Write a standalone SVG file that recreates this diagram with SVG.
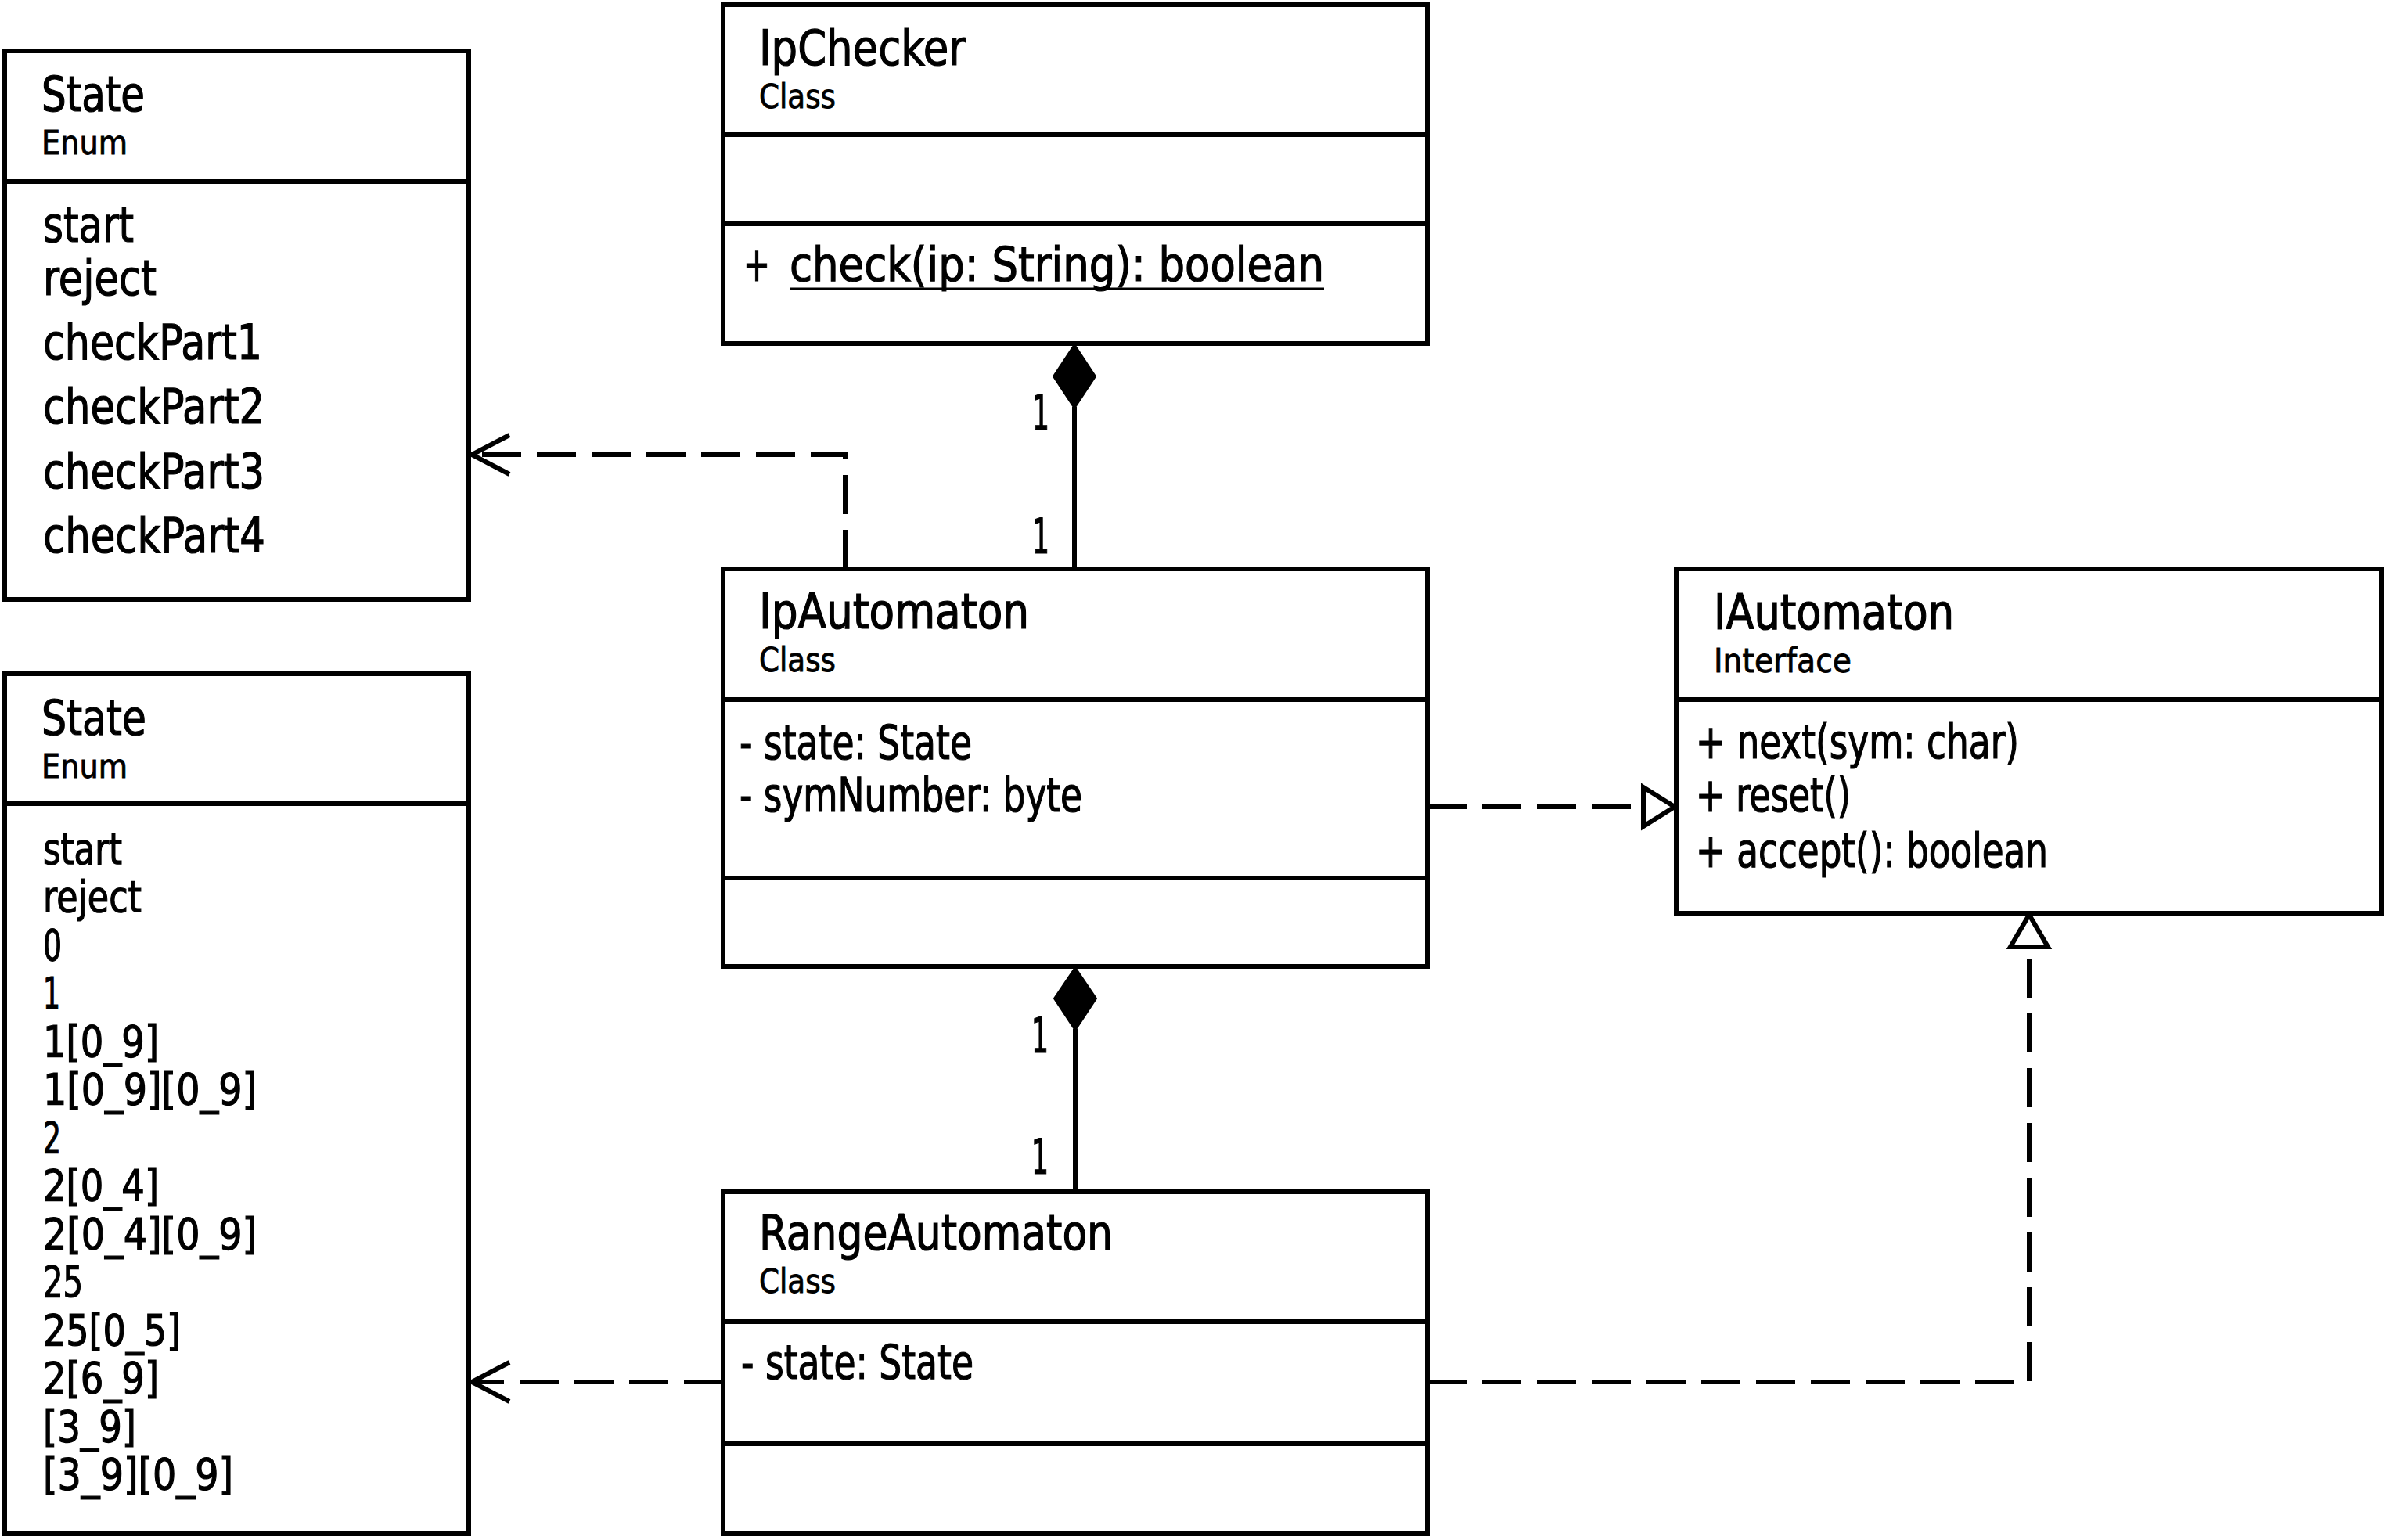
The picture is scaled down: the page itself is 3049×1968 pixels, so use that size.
<svg xmlns="http://www.w3.org/2000/svg" width="3049" height="1968" viewBox="0 0 3049 1968">
<style>
.box{fill:#fff;stroke:#000;stroke-width:6}
.div{stroke:#000;stroke-width:6}
text{font-family:'DejaVu Sans Condensed','DejaVu Sans',sans-serif;fill:#000;stroke:#000;stroke-width:1.2}
.nm{font-size:63px}
.st{font-size:42px;stroke-width:0.8}
.e1{font-size:63px}
.e2{font-size:55px}
.mb{font-size:61px}
.lb{font-size:62px}
.ln{fill:none;stroke:#000;stroke-width:6}
.dash{fill:none;stroke:#000;stroke-width:6;stroke-dasharray:50 20}
.dia{fill:#000;stroke:#000;stroke-width:2}
.tri{fill:#fff;stroke:#000;stroke-width:6;stroke-linejoin:miter}
.arr{fill:none;stroke:#000;stroke-width:6}
</style>
<rect width="3049" height="1968" fill="#fff"/>

<g id="connectors">
  <line class="ln" x1="1373" y1="520" x2="1373" y2="727"/>
  <polygon class="dia" points="1373,440 1400,481 1373,522 1346,481"/>
  <line class="ln" x1="1374" y1="1315" x2="1374" y2="1523"/>
  <polygon class="dia" points="1374,1236 1401,1276 1374,1317 1347,1276"/>
  <path class="dash" d="M1080,727 V581 H605"/>
  <polyline class="arr" points="651,556 603,581 651,606"/>
  <path class="dash" d="M924,1766 H605"/>
  <polyline class="arr" points="651,1741 603,1766 651,1791"/>
  <path class="dash" d="M1824,1031 H2100"/>
  <polygon class="tri" points="2100,1006 2140,1031 2100,1056"/>
  <path class="dash" d="M1824,1766 H2593 V1210"/>
  <polygon class="tri" points="2569,1210 2593,1169 2617,1210"/>
  <text class="lb" x="1319" y="549" textLength="22" lengthAdjust="spacingAndGlyphs">1</text>
  <text class="lb" x="1319" y="707" textLength="22" lengthAdjust="spacingAndGlyphs">1</text>
  <text class="lb" x="1318" y="1345" textLength="22" lengthAdjust="spacingAndGlyphs">1</text>
  <text class="lb" x="1318" y="1500" textLength="22" lengthAdjust="spacingAndGlyphs">1</text>
</g>

<g id="state1">
  <rect class="box" x="6" y="65" width="593" height="701"/>
  <line class="div" x1="6" y1="232" x2="599" y2="232"/>
  <text class="nm" x="53" y="142" textLength="132" lengthAdjust="spacingAndGlyphs">State</text>
  <text class="st" x="53" y="197" textLength="110" lengthAdjust="spacingAndGlyphs">Enum</text>
  <text class="e1" x="55" y="309" textLength="116" lengthAdjust="spacingAndGlyphs">start</text>
  <text class="e1" x="55" y="377" textLength="145" lengthAdjust="spacingAndGlyphs">reject</text>
  <text class="e1" x="55" y="459" textLength="280" lengthAdjust="spacingAndGlyphs">checkPart1</text>
  <text class="e1" x="55" y="541" textLength="283" lengthAdjust="spacingAndGlyphs">checkPart2</text>
  <text class="e1" x="55" y="624" textLength="283" lengthAdjust="spacingAndGlyphs">checkPart3</text>
  <text class="e1" x="55" y="706" textLength="284" lengthAdjust="spacingAndGlyphs">checkPart4</text>
</g>

<g id="state2">
  <rect class="box" x="6" y="861" width="593" height="1099"/>
  <line class="div" x1="6" y1="1027" x2="599" y2="1027"/>
  <text class="nm" x="53" y="939" textLength="134" lengthAdjust="spacingAndGlyphs">State</text>
  <text class="st" x="53" y="994" textLength="110" lengthAdjust="spacingAndGlyphs">Enum</text>
  <text class="e2" x="55" y="1104" textLength="101" lengthAdjust="spacingAndGlyphs">start</text>
  <text class="e2" x="55" y="1165" textLength="126" lengthAdjust="spacingAndGlyphs">reject</text>
  <text class="e2" x="55" y="1227" textLength="24" lengthAdjust="spacingAndGlyphs">0</text>
  <text class="e2" x="55" y="1288" textLength="22" lengthAdjust="spacingAndGlyphs">1</text>
  <text class="e2" x="55" y="1350" textLength="148" lengthAdjust="spacingAndGlyphs">1[0_9]</text>
  <text class="e2" x="55" y="1411" textLength="273" lengthAdjust="spacingAndGlyphs">1[0_9][0_9]</text>
  <text class="e2" x="55" y="1473" textLength="23" lengthAdjust="spacingAndGlyphs">2</text>
  <text class="e2" x="55" y="1534" textLength="148" lengthAdjust="spacingAndGlyphs">2[0_4]</text>
  <text class="e2" x="55" y="1596" textLength="273" lengthAdjust="spacingAndGlyphs">2[0_4][0_9]</text>
  <text class="e2" x="55" y="1657" textLength="51" lengthAdjust="spacingAndGlyphs">25</text>
  <text class="e2" x="55" y="1719" textLength="176" lengthAdjust="spacingAndGlyphs">25[0_5]</text>
  <text class="e2" x="55" y="1780" textLength="148" lengthAdjust="spacingAndGlyphs">2[6_9]</text>
  <text class="e2" x="55" y="1842" textLength="119" lengthAdjust="spacingAndGlyphs">[3_9]</text>
  <text class="e2" x="55" y="1903" textLength="243" lengthAdjust="spacingAndGlyphs">[3_9][0_9]</text>
</g>

<g id="ipchecker">
  <rect class="box" x="924" y="6" width="900" height="433"/>
  <line class="div" x1="924" y1="172" x2="1824" y2="172"/>
  <line class="div" x1="924" y1="286" x2="1824" y2="286"/>
  <text class="nm" x="970" y="83" textLength="264" lengthAdjust="spacingAndGlyphs">IpChecker</text>
  <text class="st" x="970" y="138" textLength="98" lengthAdjust="spacingAndGlyphs">Class</text>
  <text class="mb" x="950" y="359" textLength="34" lengthAdjust="spacingAndGlyphs">+</text>
  <text class="mb" x="1009" y="359" textLength="683" lengthAdjust="spacingAndGlyphs">check(ip: String): boolean</text>
  <line x1="1009" y1="369" x2="1692" y2="369" stroke="#000" stroke-width="3"/>
</g>

<g id="ipautomaton">
  <rect class="box" x="924" y="727" width="900" height="508"/>
  <line class="div" x1="924" y1="894" x2="1824" y2="894"/>
  <line class="div" x1="924" y1="1122" x2="1824" y2="1122"/>
  <text class="nm" x="970" y="803" textLength="345" lengthAdjust="spacingAndGlyphs">IpAutomaton</text>
  <text class="st" x="970" y="858" textLength="98" lengthAdjust="spacingAndGlyphs">Class</text>
  <text class="mb" x="945" y="970" textLength="297" lengthAdjust="spacingAndGlyphs">- state: State</text>
  <text class="mb" x="945" y="1037" textLength="438" lengthAdjust="spacingAndGlyphs">- symNumber: byte</text>
</g>

<g id="rangeautomaton">
  <rect class="box" x="924" y="1523" width="900" height="437"/>
  <line class="div" x1="924" y1="1689" x2="1824" y2="1689"/>
  <line class="div" x1="924" y1="1845" x2="1824" y2="1845"/>
  <text class="nm" x="970" y="1597" textLength="452" lengthAdjust="spacingAndGlyphs">RangeAutomaton</text>
  <text class="st" x="970" y="1652" textLength="98" lengthAdjust="spacingAndGlyphs">Class</text>
  <text class="mb" x="947" y="1762" textLength="297" lengthAdjust="spacingAndGlyphs">- state: State</text>
</g>

<g id="iautomaton">
  <rect class="box" x="2142" y="727" width="901" height="440"/>
  <line class="div" x1="2142" y1="894" x2="3043" y2="894"/>
  <text class="nm" x="2190" y="804" textLength="307" lengthAdjust="spacingAndGlyphs">IAutomaton</text>
  <text class="st" x="2190" y="859" textLength="176" lengthAdjust="spacingAndGlyphs">Interface</text>
  <text class="mb" x="2167" y="969" textLength="413" lengthAdjust="spacingAndGlyphs">+ next(sym: char)</text>
  <text class="mb" x="2167" y="1037" textLength="198" lengthAdjust="spacingAndGlyphs">+ reset()</text>
  <text class="mb" x="2167" y="1108" textLength="450" lengthAdjust="spacingAndGlyphs">+ accept(): boolean</text>
</g>
</svg>
